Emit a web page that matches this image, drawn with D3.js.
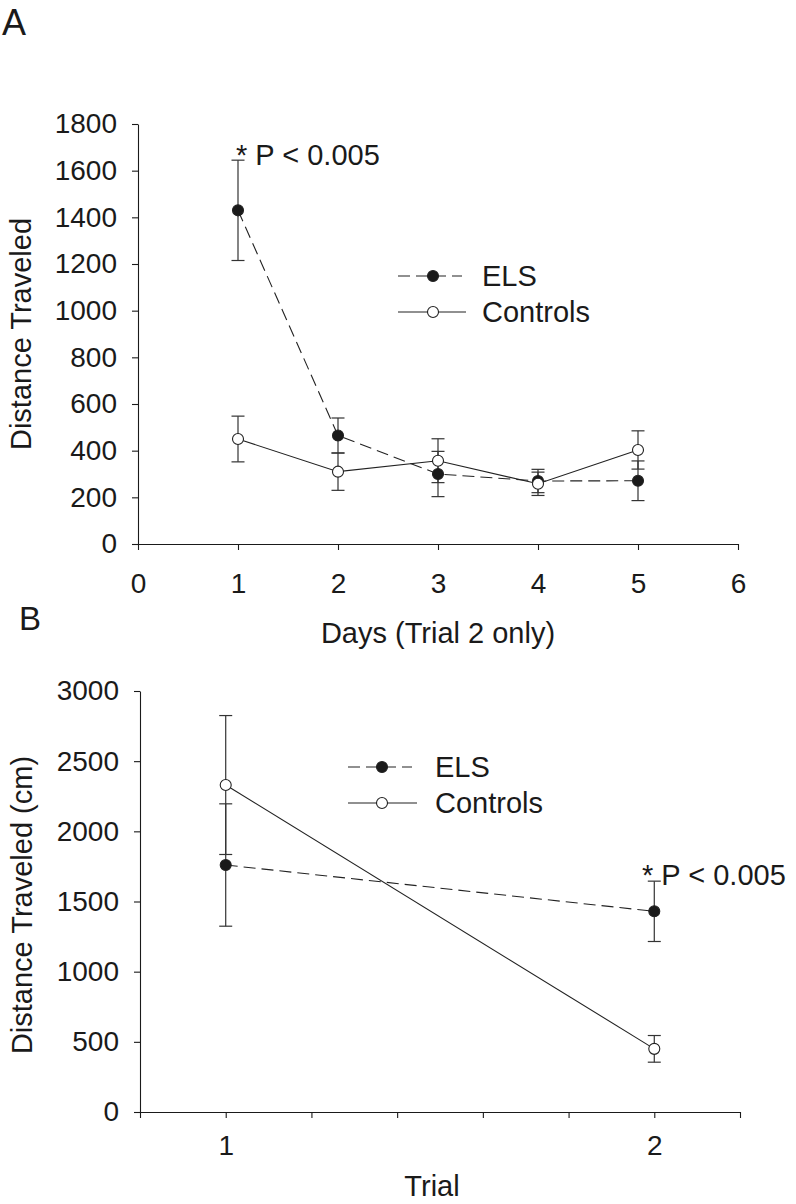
<!DOCTYPE html>
<html>
<head>
<meta charset="utf-8">
<script src="https://cdn.jsdelivr.net/npm/d3@7/dist/d3.min.js"></script>
<style>
  html, body { margin: 0; padding: 0; background: #fff; }
  svg { display: block; }
  text { font-family: "Liberation Sans", Arial, sans-serif; fill: #1a1a1a; }
</style>
</head>
<body>
<script>
// ---------- Data ----------
// Panel A: Days (Trial 2 only)
const daysA = [1, 2, 3, 4, 5];
const elsA = [1430, 465, 300, 270, 271];
const elsAErr = [215, 75, 97, 50, 85];
const ctrlA = [450, 310, 357, 258, 403];
const ctrlAErr = [98, 80, 94, 50, 82];
const xTicksA = [0, 1, 2, 3, 4, 5, 6];
const yTicksA = [0, 200, 400, 600, 800, 1000, 1200, 1400, 1600, 1800];

// Panel B: Trial
const trialsB = [1, 2];
const elsB = [1760, 1430];
const elsBErr = [436, 215];
const ctrlB = [2330, 450];
const ctrlBErr = [495, 95];
const xTicksB = [0.8, 1.0, 1.2, 1.4, 1.6, 1.8, 2.0, 2.2];
const xLabelsB = ["", "1", "", "", "", "", "2", ""];
const yTicksB = [0, 500, 1000, 1500, 2000, 2500, 3000];

const seriesNames = ["ELS", "Controls"];
const annotation = "* P < 0.005";

// ---------- Drawing ----------
const W = 796, H = 1204;
const svg = d3.select("body").append("svg").attr("width", W).attr("height", H);
const INK = "#1a1a1a";

function drawPanel(cfg) {
  const x = d3.scaleLinear().domain(cfg.xDomain).range([cfg.x0, cfg.x1]);
  const y = d3.scaleLinear().domain(cfg.yDomain).range([cfg.y0, cfg.y1]);
  const g = svg.append("g");

  // axes
  const xAxis = d3.axisBottom(x).tickValues(cfg.xTicks).tickSizeInner(6).tickSizeOuter(0)
    .tickPadding(cfg.xPad).tickFormat((d, i) => cfg.xLabels ? cfg.xLabels[i] : d3.format("d")(d));
  const gx = g.append("g").attr("transform", `translate(0,${cfg.y0})`).call(xAxis);
  const yAxis = d3.axisLeft(y).tickValues(cfg.yTicks).tickSizeInner(6).tickSizeOuter(0)
    .tickPadding(15).tickFormat(d3.format("d"));
  const gy = g.append("g").attr("transform", `translate(${cfg.x0},0)`).call(yAxis);
  [gx, gy].forEach(a => {
    a.selectAll("path.domain").attr("stroke", INK).attr("stroke-width", 1.1);
    a.selectAll(".tick line").attr("stroke", INK).attr("stroke-width", 1.1);
    a.selectAll(".tick text").attr("font-size", 28).attr("fill", INK)
      .style("font-family", '"Liberation Sans", Arial, sans-serif');
  });

  // axis titles
  g.append("text").attr("x", cfg.xTitleX).attr("y", cfg.xTitleY).attr("text-anchor", "middle")
    .attr("font-size", 29).text(cfg.xTitle);
  g.append("text").attr("transform", `translate(${cfg.yTitleX},${cfg.yTitleY}) rotate(-90)`)
    .attr("text-anchor", "middle").attr("font-size", 29).text(cfg.yTitle);

  // panel letter
  g.append("text").attr("x", cfg.letterX).attr("y", cfg.letterY).attr("font-size", cfg.letterSize).text(cfg.letter);

  const series = [
    { vals: cfg.els, err: cfg.elsErr, dash: "12,6", fill: INK },
    { vals: cfg.ctrl, err: cfg.ctrlErr, dash: null, fill: "#fff" }
  ];
  const line = d3.line().x(d => x(d[0])).y(d => y(d[1]));

  // error bars
  series.forEach(s => {
    s.vals.forEach((v, i) => {
      const cx = x(cfg.xs[i]);
      const top = y(v + s.err[i]), bot = y(v - s.err[i]);
      g.append("line").attr("x1", cx).attr("x2", cx).attr("y1", top).attr("y2", bot)
        .attr("stroke", "#333").attr("stroke-width", 1.2);
      [top, bot].forEach(yy => g.append("line").attr("x1", cx - 6.5).attr("x2", cx + 6.5)
        .attr("y1", yy).attr("y2", yy).attr("stroke", "#333").attr("stroke-width", 1.2));
    });
  });
  // lines
  series.forEach(s => {
    g.append("path").datum(s.vals.map((v, i) => [cfg.xs[i], v])).attr("d", line)
      .attr("fill", "none").attr("stroke", "#222").attr("stroke-width", 1.1)
      .attr("stroke-dasharray", s.dash);
  });
  // markers
  series.forEach(s => {
    s.vals.forEach((v, i) => {
      g.append("circle").attr("cx", x(cfg.xs[i])).attr("cy", y(v)).attr("r", 5.5)
        .attr("fill", s.fill).attr("stroke", "#222").attr("stroke-width", 1.1);
    });
  });

  // legend
  series.forEach((s, k) => {
    const ly = cfg.legY[k];
    g.append("line").attr("x1", cfg.legX1).attr("x2", cfg.legX2[k]).attr("y1", ly).attr("y2", ly)
      .attr("stroke", "#222").attr("stroke-width", 1.1).attr("stroke-dasharray", s.dash);
    g.append("circle").attr("cx", cfg.legM).attr("cy", ly).attr("r", 5.5)
      .attr("fill", s.fill).attr("stroke", "#222").attr("stroke-width", 1.1);
    g.append("text").attr("x", cfg.legT).attr("y", ly).attr("dy", "0.36em")
      .attr("font-size", 29).text(seriesNames[k]);
  });

  // annotation
  g.append("text").attr("x", cfg.annX).attr("y", cfg.annY).attr("font-size", 29).text(annotation);
}

drawPanel({
  xDomain: [0, 6], yDomain: [0, 1800], x0: 138, x1: 738, y0: 544, y1: 124,
  xTicks: xTicksA, yTicks: yTicksA, xPad: 23,
  xs: daysA, els: elsA, elsErr: elsAErr, ctrl: ctrlA, ctrlErr: ctrlAErr,
  xTitle: "Days (Trial 2 only)", xTitleX: 438, xTitleY: 643,
  yTitle: "Distance Traveled", yTitleX: 31, yTitleY: 334,
  letter: "A", letterX: 2, letterY: 35, letterSize: 36,
  legY: [276, 312], legX1: 398, legX2: [462, 466], legM: 433, legT: 482,
  annX: 236, annY: 165
});

drawPanel({
  xDomain: [0.8, 2.2], yDomain: [0, 3000], x0: 140, x1: 740, y0: 1112, y1: 691,
  xTicks: xTicksB, xLabels: xLabelsB, yTicks: yTicksB, xPad: 17,
  xs: trialsB, els: elsB, elsErr: elsBErr, ctrl: ctrlB, ctrlErr: ctrlBErr,
  xTitle: "Trial", xTitleX: 432, xTitleY: 1196,
  yTitle: "Distance Traveled (cm)", yTitleX: 32, yTitleY: 905,
  letter: "B", letterX: 19, letterY: 630, letterSize: 33,
  legY: [767, 803], legX1: 348, legX2: [412, 417], legM: 382, legT: 435,
  annX: 642, annY: 885
});
</script>
</body>
</html>
